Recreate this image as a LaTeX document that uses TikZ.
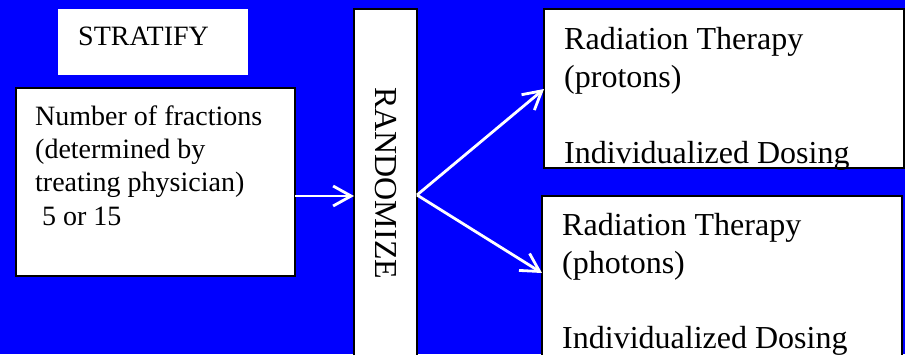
\documentclass[tikz,border=0pt]{standalone}
\usepackage{fontspec}
\setmainfont{Liberation Serif}
\usetikzlibrary{arrows.meta}
\begin{document}
\begin{tikzpicture}[x=1pt,y=-1pt,
  panel/.style={draw=black, line width=1.6pt, fill=white, rectangle, inner sep=0pt, outer sep=0pt, anchor=north west},
  plain/.style={fill=white, rectangle, inner sep=0pt, outer sep=0pt, anchor=north west},
  small/.style={font=\fontsize{28}{33}\selectfont, anchor=base west, inner sep=0pt},
  large/.style={font=\fontsize{32}{38}\selectfont, anchor=base west, inner sep=0pt},
  link/.style={draw=white, line width=2.8pt, -{Straight Barb[length=18pt,width=20pt,line width=2.8pt]}}]

% background
\fill[blue] (0,0) rectangle (905,354);
\useasboundingbox (0,0) rectangle (905,354);

% boxes
\node[plain, minimum width=190pt, minimum height=66pt] (strat) at (58,9) {};
\node[panel, minimum width=279pt, minimum height=188pt] (num) at (16,88) {};
\node[panel, minimum width=63pt, minimum height=360pt] (rnd) at (354,9) {};
\node[panel, minimum width=360pt, minimum height=159pt] (protons) at (544,9) {};
\node[panel, minimum width=360pt, minimum height=200pt] (photons) at (542,196) {};

% texts
\node[small] (stratlbl) at (78,45) {STRATIFY};
\node[small] (n1) at (35,125) {Number of fractions};
\node[small] (n2) at (35,158.3) {(determined by};
\node[small] (n3) at (35,191.6) {treating physician)};
\node[small] (n4) at (35,225) {\hspace{0.25em}5 or 15};

\node[large, rotate=-90] (rndlbl) at (375,87) {RANDOMIZE};

\node[large] (p1) at (564,49) {Radiation Therapy};
\node[large] (p2) at (564,87) {(protons)};
\node[large] (p3) at (564,163) {Individualized Dosing};

\node[large] (q1) at (562,235) {Radiation Therapy};
\node[large] (q2) at (562,273.5) {(photons)};
\node[large] (q3) at (562,348) {Individualized Dosing};

% connectors
\coordinate (fork) at (rnd.east |- 0,195);
\draw[link] (num.east |- 0,196) -- (rnd.west |- 0,196);
\draw[link] (fork) -- (protons.west |- 0,89);
\draw[link] (fork) -- (photons.west |- 0,273);
\end{tikzpicture}
\end{document}
